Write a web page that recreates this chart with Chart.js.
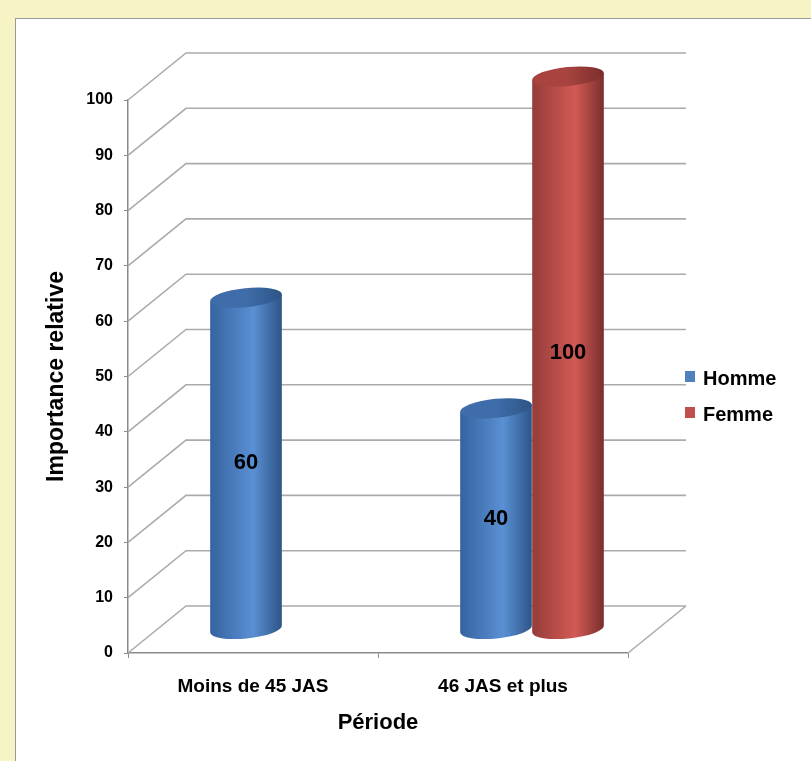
<!DOCTYPE html>
<html><head><meta charset="utf-8">
<script src="https://cdn.jsdelivr.net/npm/chart.js@4/dist/chart.umd.min.js"></script>
<style>
html,body{margin:0;padding:0;background:#F6F4C4;width:811px;height:761px;overflow:hidden}
#panel{position:absolute;left:15px;top:18px;width:820px;height:760px;background:#fff;border-left:1px solid #9a9a9a;border-top:1px solid #9a9a9a;}
#wrap{position:absolute;left:0;top:0;width:811px;height:761px}
</style></head><body>
<div id="panel"></div>
<div id="wrap"><canvas id="c" width="811" height="761"></canvas></div>
<script>
// ---- data ----
const categories = ['Moins de 45 JAS', '46 JAS et plus'];
const seriesNames = ['Homme', 'Femme'];
const hommeValues = [60, 40];
const femmeValues = [null, 100];
const yMin = 0, yMax = 100, yStep = 10;

// ---- style ----
const FONT = '"Liberation Sans", Arial, sans-serif';
const DX = 58, DY = 47;           // 3D depth offset
const TILT = -0.1;
const palette = {
  Homme: {legend:'#4F81BD', dark1:'#35639F', light:'#5A90D4', dark2:'#2D5487', cap:'#3F6DA9'},
  Femme: {legend:'#C0504D', dark1:'#953C39', light:'#D25A55', dark2:'#7A2E2C', cap:'#A8433F'}
};

function cylinder(ctx, cx, top, base, w, c) {
  const rx = w / 2, ry = 9.5;
  const cs = Math.cos(TILT), sn = Math.sin(TILT);
  const lx = cx - rx * cs, ldy = -rx * sn;   // left point offsets
  const rxp = cx + rx * cs, rdy = rx * sn;   // right point offsets
  const g = ctx.createLinearGradient(cx - rx, 0, cx + rx, 0);
  g.addColorStop(0, c.dark1);
  g.addColorStop(0.6, c.light);
  g.addColorStop(1, c.dark2);
  ctx.beginPath();
  ctx.moveTo(lx, top + ldy);
  ctx.lineTo(lx, base + ldy);
  ctx.ellipse(cx, base, rx, ry, TILT, Math.PI, 0, true);
  ctx.lineTo(rxp, top + rdy);
  ctx.closePath();
  ctx.fillStyle = g;
  ctx.fill();
  const g2 = ctx.createLinearGradient(cx - rx, 0, cx + rx, 0);
  g2.addColorStop(0, c.cap);
  g2.addColorStop(0.5, c.cap);
  g2.addColorStop(1, c.dark2);
  ctx.beginPath();
  ctx.ellipse(cx, top, rx, ry, TILT, 0, Math.PI * 2);
  ctx.fillStyle = g2;
  ctx.fill();
}

const scene3d = {
  id: 'scene3d',
  beforeDatasetsDraw(chart) {
    const {ctx, chartArea: a, scales: {y}} = chart;
    ctx.save();
    ctx.strokeStyle = '#ABABAB';
    ctx.lineWidth = 1.6;
    y.ticks.forEach(t => {
      const py = y.getPixelForValue(t.value);
      ctx.beginPath();
      ctx.moveTo(a.left, py);
      ctx.lineTo(a.left + DX, py - DY);
      ctx.lineTo(a.right + DX, py - DY);
      ctx.stroke();
    });
    ctx.beginPath();
    ctx.moveTo(a.right, a.bottom);
    ctx.lineTo(a.right + DX, a.bottom - DY);
    ctx.stroke();

    // cylinders at mid depth
    const labels = [];
    chart.data.datasets.forEach((ds, di) => {
      const meta = chart.getDatasetMeta(di);
      const c = palette[ds.label];
      meta.data.forEach((el, i) => {
        const v = ds.data[i];
        if (v === null || v === undefined) return;
        const p = el.getProps(['x', 'y', 'base', 'width'], true);
        const cx = p.x + DX / 2, top = p.y - DY / 2, base = p.base - DY / 2;
        cylinder(ctx, cx, top, base, p.width, c);
        labels.push({x: cx, y: (top + base) / 2, t: String(v)});
      });
    });
    ctx.fillStyle = '#000';
    ctx.font = 'bold 22px ' + FONT;
    ctx.textAlign = 'center';
    ctx.textBaseline = 'middle';
    labels.forEach(L => ctx.fillText(L.t, L.x, L.y));
    ctx.restore();
    return false;
  },
  afterDraw(chart) {
    const {ctx} = chart;
    ctx.save();
    ctx.font = 'bold 20px ' + FONT;
    ctx.textBaseline = 'middle';
    ctx.textAlign = 'left';
    chart.data.datasets.forEach((ds, i) => {
      const yy = 376 + i * 36;
      ctx.fillStyle = palette[ds.label].legend;
      ctx.fillRect(685, yy - 5, 10, 11);
      ctx.fillStyle = '#000';
      ctx.fillText(ds.label, 703, yy + 3);
    });
    ctx.restore();
  }
};

new Chart(document.getElementById('c'), {
  type: 'bar',
  data: {
    labels: categories,
    datasets: [
      {label: seriesNames[0], data: hommeValues, backgroundColor: palette.Homme.legend},
      {label: seriesNames[1], data: femmeValues, backgroundColor: palette.Femme.legend}
    ]
  },
  options: {
    responsive: false,
    animation: false,
    devicePixelRatio: 1,
    categoryPercentage: 0.576,
    barPercentage: 1.0,
    layout: {padding: {left: 0, right: 183, top: 100, bottom: 0}},
    plugins: {legend: {display: false}, tooltip: {enabled: false}},
    scales: {
      x: {
        grid: {display: true, drawOnChartArea: false, drawTicks: true, tickLength: 5, color: '#8a8a8a', offset: true},
        border: {display: true, color: '#8a8a8a', width: 1.5},
        ticks: {font: {family: FONT, size: 19, weight: 'bold'}, color: '#000', padding: 17, maxRotation: 0},
        title: {display: true, text: 'Période', font: {family: FONT, size: 22, weight: 'bold'}, color: '#000', padding: {top: 0, bottom: 25}},
        afterFit(s) { s.height = 108; }
      },
      y: {
        min: yMin, max: yMax,
        grid: {display: true, drawOnChartArea: false, drawTicks: true, tickLength: 4, color: '#8a8a8a'},
        border: {display: true, color: '#8a8a8a', width: 1.5},
        ticks: {stepSize: yStep, font: {family: FONT, size: 16, weight: 'bold'}, color: '#000', padding: 11},
        title: {display: true, text: 'Importance relative', font: {family: FONT, size: 23, weight: 'bold'}, color: '#000', padding: {top: 43, bottom: 0}},
        afterFit(s) { s.width = 128; }
      }
    }
  },
  plugins: [scene3d]
});
</script>
</body></html>
